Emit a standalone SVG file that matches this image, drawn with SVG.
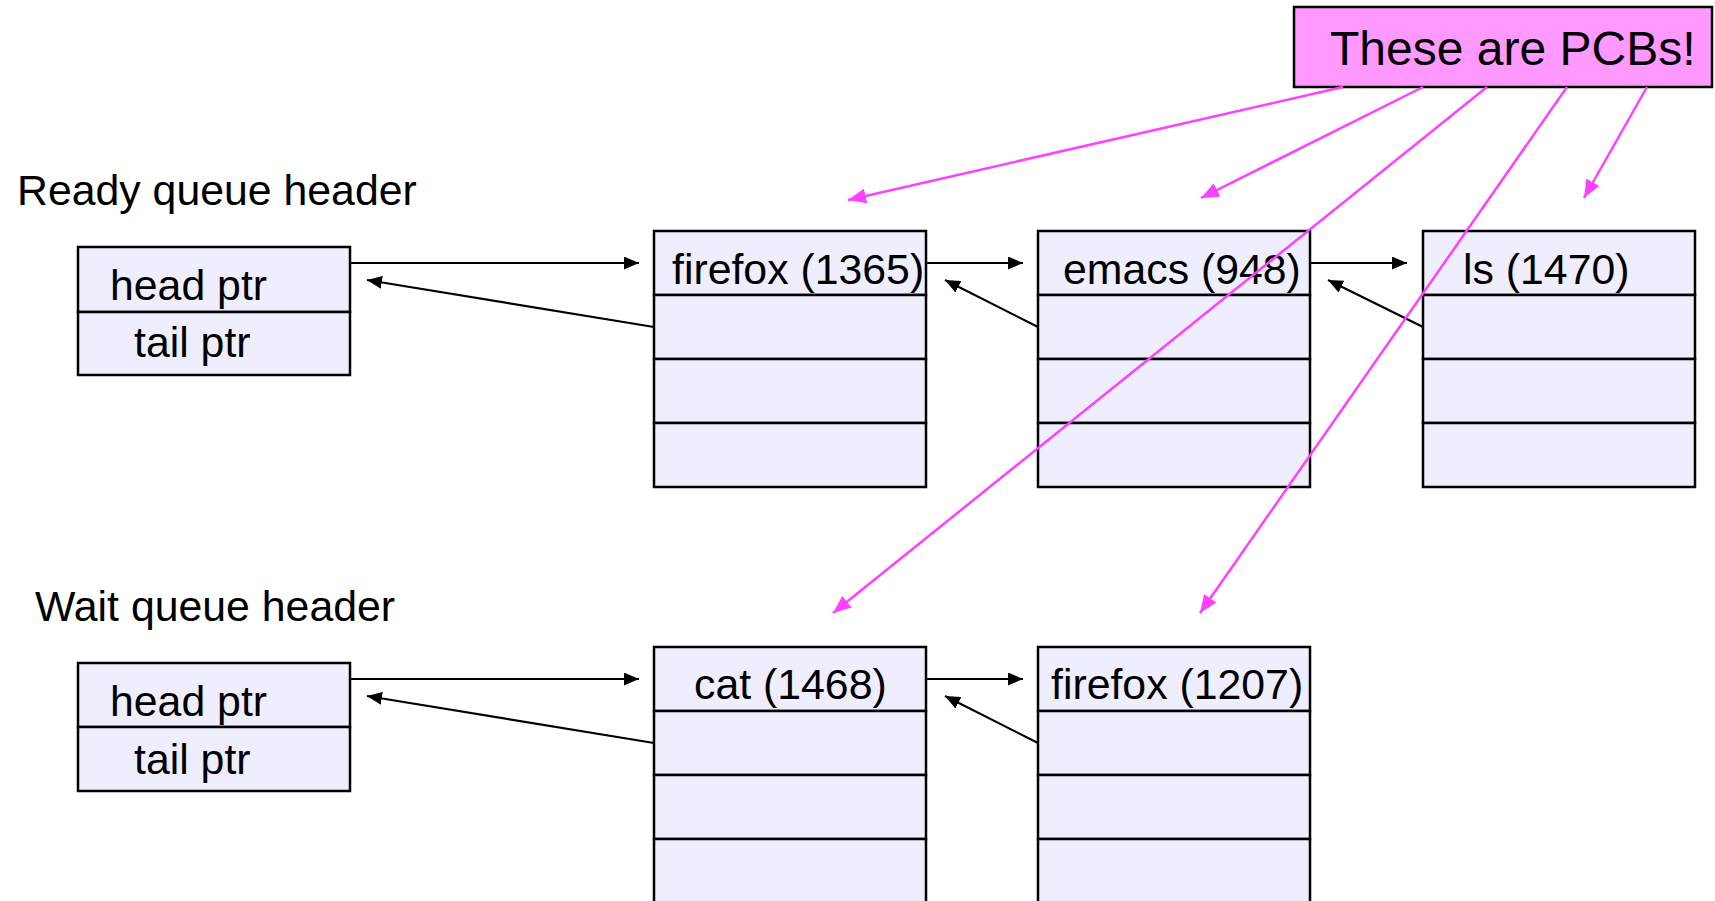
<svg xmlns="http://www.w3.org/2000/svg" width="1715" height="901" viewBox="0 0 1715 901">
<defs>
<style>
.t{font-family:"Liberation Sans",Arial,sans-serif;font-size:42.8px;fill:#000}
.cell{fill:#EEEEFF;stroke:#000;stroke-width:2.5}
.bl{stroke:#000;stroke-width:2.2;fill:none;marker-end:url(#ab)}
.mg{stroke:#FF40FF;stroke-width:2.5;fill:none;marker-end:url(#am)}
</style>
<marker id="ab" markerUnits="userSpaceOnUse" markerWidth="16" markerHeight="13" refX="15" refY="6.5" orient="auto"><path d="M0,0 L15,6.5 L0,13 z" fill="#000"/></marker>
<marker id="am" markerUnits="userSpaceOnUse" markerWidth="19" markerHeight="15" refX="18" refY="7.5" orient="auto"><path d="M0,0 L18,7.5 L0,15 z" fill="#FF40FF"/></marker>
</defs>
<rect width="1715" height="901" fill="#fff"/>

<g id="ready-label"><text class="t" x="17" y="205">Ready queue header</text></g>
<g id="wait-label"><text class="t" x="35" y="621">Wait queue header</text></g>

<g id="ready-header">
<rect class="cell" x="78" y="247" width="272" height="65"/>
<rect class="cell" x="78" y="312" width="272" height="63"/>
<text class="t" x="110" y="300">head ptr</text>
<text class="t" x="134" y="357">tail ptr</text>
</g>

<g id="wait-header">
<rect class="cell" x="78" y="663" width="272" height="64"/>
<rect class="cell" x="78" y="727" width="272" height="64"/>
<text class="t" x="110" y="716">head ptr</text>
<text class="t" x="134" y="774">tail ptr</text>
</g>

<g id="pcb-firefox-1365">
<rect class="cell" x="654" y="231" width="272" height="64"/>
<rect class="cell" x="654" y="295" width="272" height="64"/>
<rect class="cell" x="654" y="359" width="272" height="64"/>
<rect class="cell" x="654" y="423" width="272" height="64"/>
<text class="t" x="672" y="284">firefox (1365)</text>
</g>

<g id="pcb-emacs-948">
<rect class="cell" x="1038" y="231" width="272" height="64"/>
<rect class="cell" x="1038" y="295" width="272" height="64"/>
<rect class="cell" x="1038" y="359" width="272" height="64"/>
<rect class="cell" x="1038" y="423" width="272" height="64"/>
<text class="t" x="1063" y="284">emacs (948)</text>
</g>

<g id="pcb-ls-1470">
<rect class="cell" x="1423" y="231" width="272" height="64"/>
<rect class="cell" x="1423" y="295" width="272" height="64"/>
<rect class="cell" x="1423" y="359" width="272" height="64"/>
<rect class="cell" x="1423" y="423" width="272" height="64"/>
<text class="t" x="1463" y="284">ls (1470)</text>
</g>

<g id="pcb-cat-1468">
<rect class="cell" x="654" y="647" width="272" height="64"/>
<rect class="cell" x="654" y="711" width="272" height="64"/>
<rect class="cell" x="654" y="775" width="272" height="64"/>
<rect class="cell" x="654" y="839" width="272" height="66"/>
<text class="t" x="694" y="699">cat (1468)</text>
</g>

<g id="pcb-firefox-1207">
<rect class="cell" x="1038" y="647" width="272" height="64"/>
<rect class="cell" x="1038" y="711" width="272" height="64"/>
<rect class="cell" x="1038" y="775" width="272" height="64"/>
<rect class="cell" x="1038" y="839" width="272" height="66"/>
<text class="t" x="1051" y="699">firefox (1207)</text>
</g>

<g id="callout">
<rect x="1294" y="7" width="418" height="80" fill="#FF99FF" stroke="#000" stroke-width="2.5"/>
<text x="1330" y="65" font-family="'Liberation Sans',Arial,sans-serif" font-size="48" fill="#000">These are PCBs!</text>
</g>

<g id="connectors">
<line class="bl" x1="350" y1="263" x2="639" y2="263"/>
<line class="bl" x1="654" y1="327" x2="367" y2="280"/>
<line class="bl" x1="926" y1="263" x2="1023" y2="263"/>
<line class="bl" x1="1038" y1="327" x2="945" y2="280"/>
<line class="bl" x1="1310" y1="263" x2="1407" y2="263"/>
<line class="bl" x1="1423" y1="327" x2="1328" y2="280"/>
<line class="bl" x1="350" y1="679" x2="639" y2="679"/>
<line class="bl" x1="654" y1="743" x2="367" y2="696"/>
<line class="bl" x1="926" y1="679" x2="1023" y2="679"/>
<line class="bl" x1="1038" y1="743" x2="945" y2="696"/>
<line class="mg" x1="1343" y1="87" x2="848" y2="200"/>
<line class="mg" x1="1423" y1="87" x2="1201" y2="198"/>
<line class="mg" x1="1487" y1="87" x2="833" y2="613"/>
<line class="mg" x1="1567" y1="87" x2="1200" y2="613"/>
<line class="mg" x1="1647" y1="87" x2="1584" y2="198"/>
</g>
</svg>
